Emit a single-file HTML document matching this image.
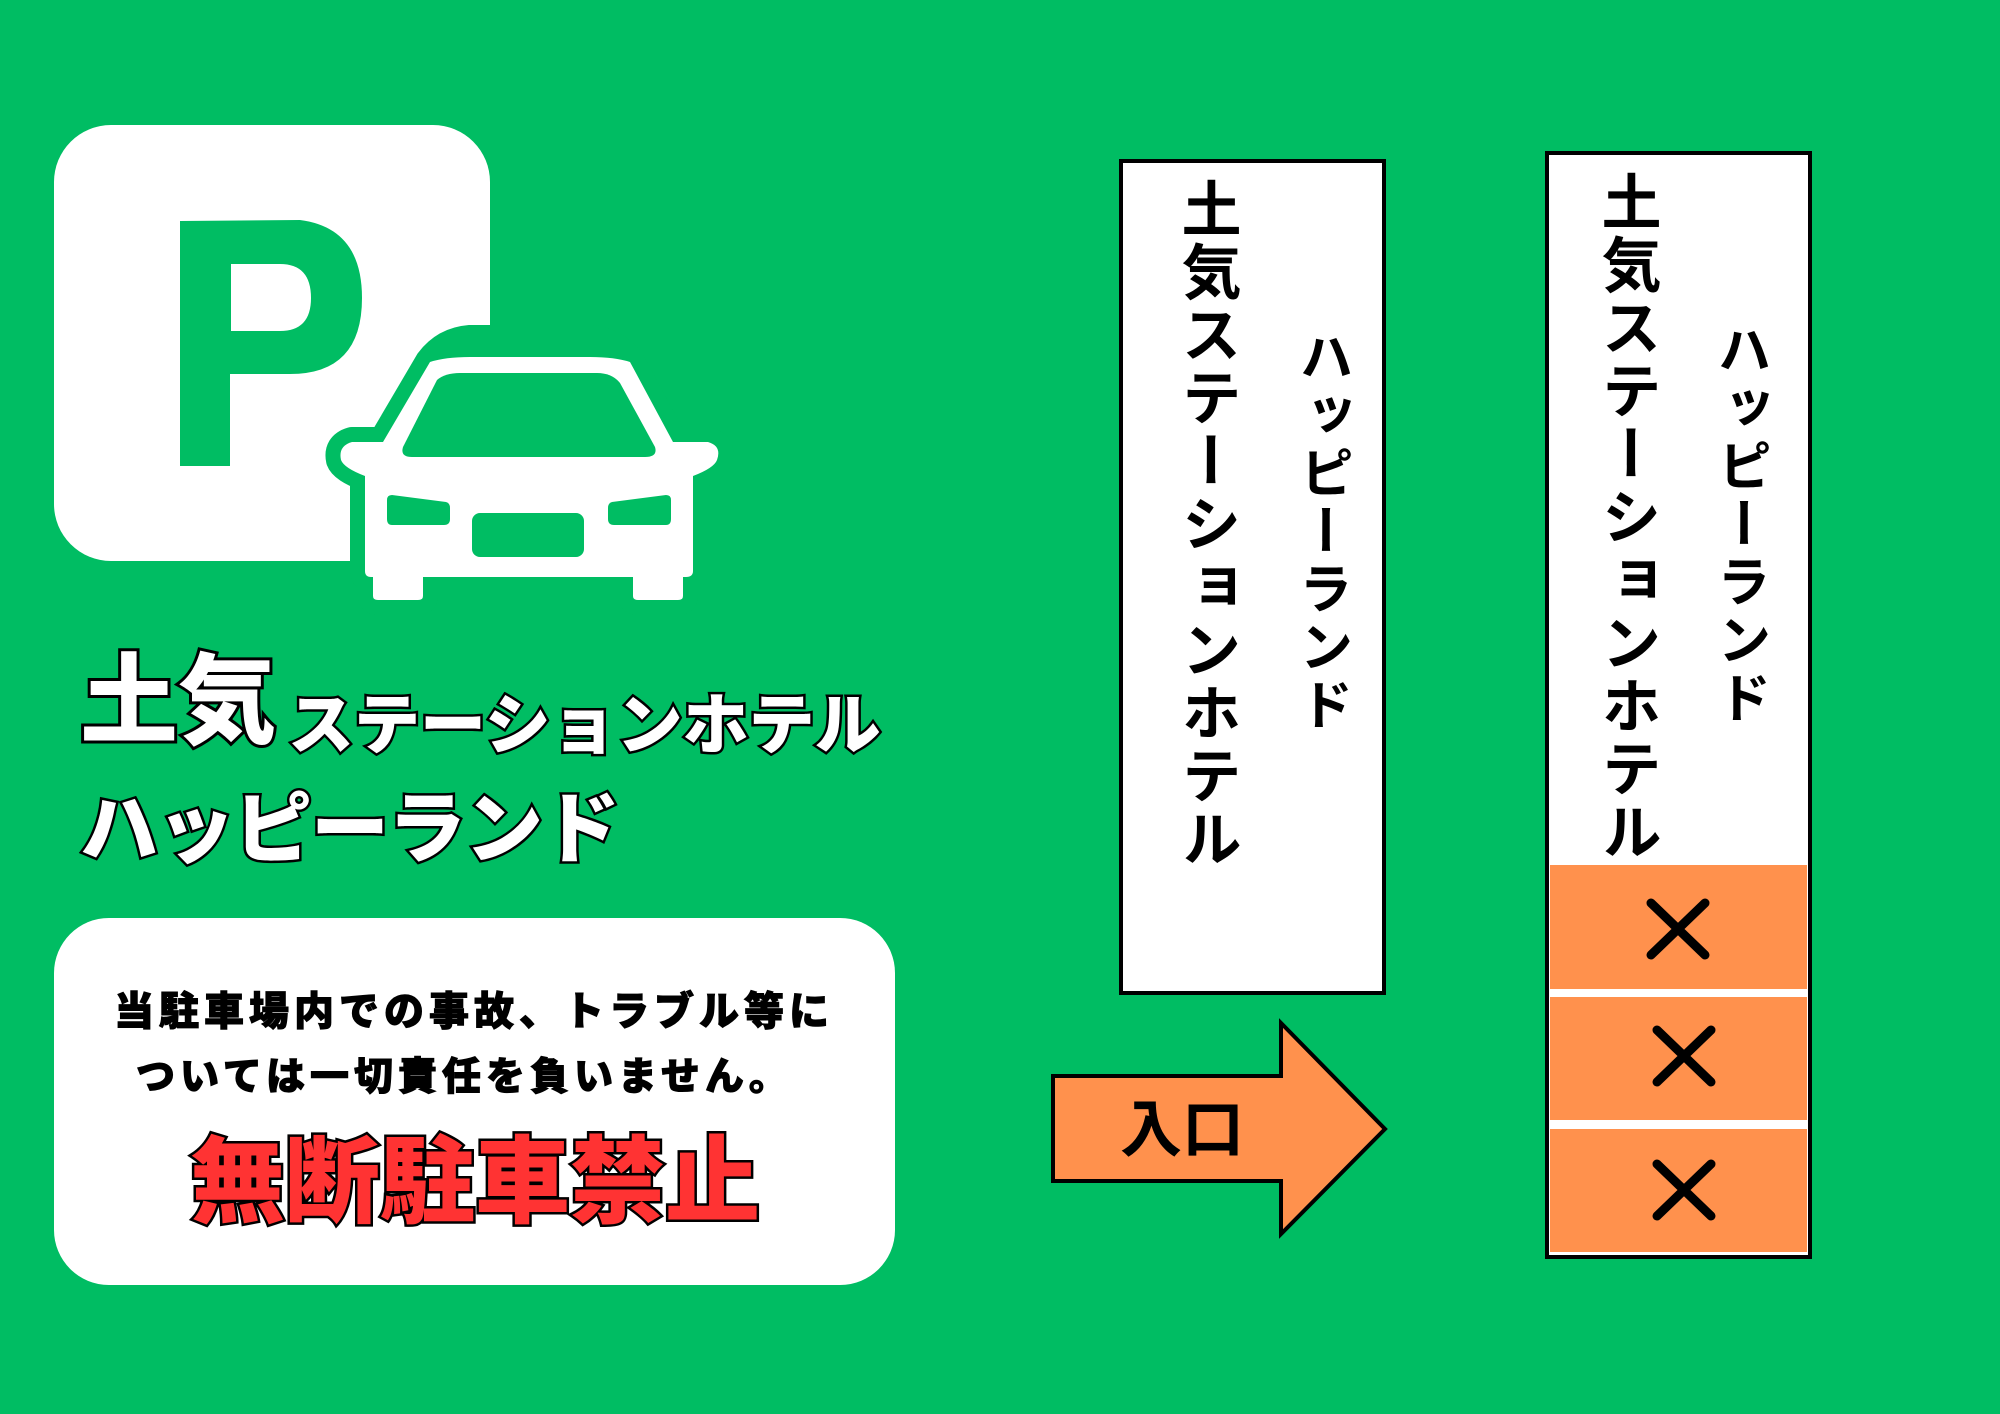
<!DOCTYPE html>
<html><head><meta charset="utf-8"><style>
html,body{margin:0;padding:0}
body{width:2000px;height:1414px;background:#00bd63;position:relative;overflow:hidden;font-family:"Liberation Sans","Noto Sans CJK JP",sans-serif}
.v{position:absolute;writing-mode:vertical-rl;font-weight:700;color:#000;white-space:nowrap;line-height:1}
.t{position:absolute;white-space:nowrap;font-weight:900;line-height:1}
</style></head><body>
<svg width="2000" height="1414" style="position:absolute;left:0;top:0">
<rect x="54" y="125" width="436" height="436" rx="57" fill="#fff"/>
<path d="M180 221 L300 220 Q362 228 362 298 Q362 374 290 374 L230 374 L230 466 L180 466 Z M231 264 L231 331 L280 331 Q311 331 311 298 Q311 264 280 264 Z" fill="#00bd63" fill-rule="evenodd"/>
<g id="car">
<path d="M383 442 L430 362 Q445 342 470 340 L590 340 Q615 342 630 362 L673 442 L708 442 Q722 446 717 460 Q714 468 693 476 L693 571 Q693 577 686 577 L683 577 L683 596 Q683 600 678 600 L638 600 Q633 600 633 596 L633 577 L423 577 L423 596 Q423 600 418 600 L378 600 Q373 600 373 596 L373 577 L371 577 Q365 577 365 571 L365 476 Q344 468 341 460 Q338 446 352 442 Z" fill="#00bd63" stroke="#00bd63" stroke-width="30" stroke-linejoin="round"/>
<path d="M383 442 L430 362 Q445 357 470 357 L590 357 Q615 357 630 362 L673 442 L708 442 Q722 446 717 460 Q714 468 693 476 L693 571 Q693 577 686 577 L683 577 L683 596 Q683 600 678 600 L638 600 Q633 600 633 596 L633 577 L423 577 L423 596 Q423 600 418 600 L378 600 Q373 600 373 596 L373 577 L371 577 Q365 577 365 571 L365 476 Q344 468 341 460 Q338 446 352 442 Z" fill="#fff"/>
<path d="M437 380 Q445 373 460 373 L597 373 Q612 373 620 383 L655 447 Q658 457 645 457 L412 457 Q400 457 403 447 Z" fill="#00bd63"/>
<path d="M392 495 L446 502 Q450 503 450 508 L450 519 Q450 525 444 525 L392 525 Q387 525 387 519 L387 500 Q387 495 392 495 Z" fill="#00bd63"/>
<path d="M666 495 L612 502 Q608 503 608 508 L608 519 Q608 525 614 525 L666 525 Q671 525 671 519 L671 500 Q671 495 666 495 Z" fill="#00bd63"/>
<rect x="472" y="513" width="112" height="44" rx="8" fill="#00bd63"/>
</g>
<rect x="1121" y="161" width="263" height="832" fill="#fff" stroke="#000" stroke-width="4"/>
<rect x="1547" y="153" width="263" height="1104" fill="#fff" stroke="#000" stroke-width="4"/>
<rect x="1550" y="865" width="257" height="124" fill="#ff914d"/>
<rect x="1550" y="997" width="257" height="123" fill="#ff914d"/>
<rect x="1550" y="1129" width="257" height="123" fill="#ff914d"/>
<g stroke="#000" stroke-width="9" stroke-linecap="round">
<path d="M1651 903 L1705 955 M1705 903 L1651 955"/>
<path d="M1657 1030 L1711 1082 M1711 1030 L1657 1082"/>
<path d="M1657 1164 L1711 1216 M1711 1164 L1657 1216"/>
</g>
<path d="M1053 1076 L1281 1076 L1281 1023 L1385 1129 L1281 1234 L1281 1181 L1053 1181 Z" fill="#ff914d" stroke="#000" stroke-width="4" stroke-linejoin="miter"/>
<rect x="54" y="918" width="841" height="367" rx="55" fill="#fff"/>
</svg>

<div class="t" style="left:80px;top:652px;font-size:98px;color:#fff;-webkit-text-stroke:6px #000;paint-order:stroke fill">土気</div>
<div class="t" style="left:288px;top:692px;font-size:66px;color:#fff;-webkit-text-stroke:5px #000;paint-order:stroke fill">ステーションホテル</div>
<div class="t" style="left:80px;top:790px;font-size:78px;letter-spacing:-1px;color:#fff;-webkit-text-stroke:5px #000;paint-order:stroke fill">ハッピーランド</div>

<div class="t" style="left:114px;top:992px;font-size:40px;letter-spacing:5px;color:#000;-webkit-text-stroke:1px #000">当駐車場内での事故、トラブル等に</div>
<div class="t" style="left:136px;top:1058px;font-size:39px;letter-spacing:5px;color:#000;-webkit-text-stroke:1px #000">ついては一切責任を負いません。</div>
<div class="t" style="left:190px;top:1136px;font-size:95px;color:#ff3333;-webkit-text-stroke:5px #000;paint-order:stroke fill">無断駐車禁止</div>

<div class="t" style="left:1120px;top:1100px;font-size:62px;font-weight:700;color:#000">入口</div>

<div class="v" style="left:1176px;top:178px;font-size:60px;letter-spacing:3px">土気ステーションホテル</div>
<div class="v" style="left:1294px;top:329px;font-size:54px;letter-spacing:4px">ハッピーランド</div>
<div class="v" style="left:1596px;top:171px;font-size:60px;letter-spacing:3px">土気ステーションホテル</div>
<div class="v" style="left:1712px;top:322px;font-size:54px;letter-spacing:4px">ハッピーランド</div>
</body></html>
